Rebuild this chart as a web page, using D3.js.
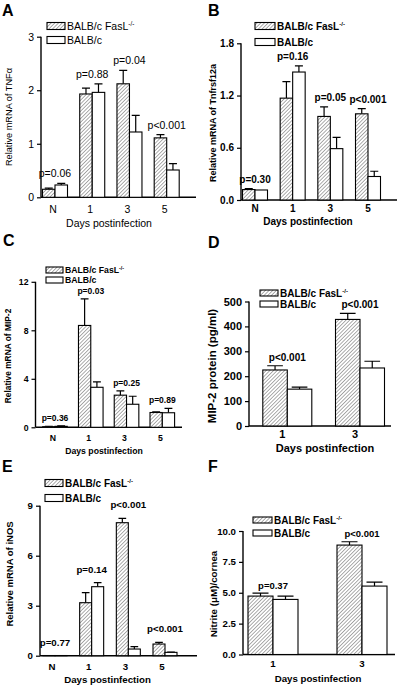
<!DOCTYPE html>
<html><head><meta charset="utf-8">
<script src="https://cdn.jsdelivr.net/npm/d3@7"></script>
<style>body{margin:0;background:#fff}</style>
</head><body>
<svg id="chart" width="400" height="687"></svg>
<script>
// ---------- data ----------
const seriesNames = ["BALB/c FasL", "BALB/c"];
const daysFour = ["N", "1", "3", "5"];
const daysTwo = ["1", "3"];

const tnfFasL = [0.15, 1.93, 2.12, 1.11];
const tnfFasLErr = [0.02, 0.11, 0.25, 0.06];
const tnfWT = [0.23, 1.96, 1.22, 0.51];
const tnfWTErr = [0.03, 0.16, 0.31, 0.12];
const tnfP = ["p=0.06", "p=0.88", "p=0.04", "p<0.001"];
const tnfTicks = [0, 1, 2, 3];

const tnfrFasL = [0.12, 1.17, 0.96, 0.99];
const tnfrFasLErr = [0.01, 0.19, 0.11, 0.06];
const tnfrWT = [0.115, 1.47, 0.59, 0.27];
const tnfrWTErr = [0.0, 0.07, 0.13, 0.06];
const tnfrP = ["p=0.30", "p=0.16", "p=0.05", "p<0.001"];
const tnfrTicks = [0, 0.6, 1.2, 1.8];

const mipFasL = [0.05, 8.4, 2.65, 1.22];
const mipFasLErr = [0.03, 2.2, 0.36, 0.06];
const mipWT = [0.08, 3.3, 1.9, 1.2];
const mipWTErr = [0.04, 0.45, 0.66, 0.36];
const mipP = ["p=0.36", "p=0.03", "p=0.25", "p=0.89"];
const mipTicks = [0, 4, 8, 12];

const mipProtFasL = [225, 428];
const mipProtFasLErr = [17, 24];
const mipProtWT = [148, 233];
const mipProtWTErr = [8, 27];
const mipProtP = ["p<0.001", "p<0.001"];
const mipProtTicks = [0, 100, 200, 300, 400, 500];

const inosFasL = [0.01, 3.18, 7.98, 0.7];
const inosFasLErr = [0.0, 0.6, 0.26, 0.1];
const inosWT = [0.01, 4.14, 0.4, 0.2];
const inosWTErr = [0.0, 0.24, 0.14, 0.01];
const inosP = ["p=0.77", "p=0.14", "p<0.001", "p<0.001"];
const inosTicks = [0, 3, 6, 9];

const nitFasL = [4.73, 8.86];
const nitFasLErr = [0.24, 0.27];
const nitWT = [4.46, 5.54];
const nitWTErr = [0.27, 0.32];
const nitP = ["p=0.37", "p<0.001"];
const nitTicks = [0, 2.5, 5, 7.5, 10];

// ---------- drawing ----------
const svg = d3.select("#chart");
const FONT = "'Liberation Sans', Arial, sans-serif";
svg.append("rect").attr("width", 400).attr("height", 687).attr("fill", "#fff");

const defs = svg.append("defs");
const pat = defs.append("pattern").attr("id", "hatch").attr("patternUnits", "userSpaceOnUse")
  .attr("width", 2.6).attr("height", 2.6).attr("patternTransform", "rotate(45)");
pat.append("rect").attr("width", 2.6).attr("height", 2.6).attr("fill", "#fff");
pat.append("line").attr("x1", 0).attr("y1", 0).attr("x2", 0).attr("y2", 2.6)
  .attr("stroke", "#5a5a5a").attr("stroke-width", 1.0);

function panel(cfg) {
  const g = svg.append("g");
  const fw = cfg.weight;
  const y = d3.scaleLinear().domain([0, cfg.yMax]).range([cfg.yBottom, cfg.yTop]);
  const x = d3.scalePoint().domain(cfg.cats).range([cfg.cx0, cfg.cx1]);
  const bw = cfg.bw;

  // letter
  g.append("text").attr("x", cfg.letterX).attr("y", cfg.letterY).text(cfg.letter)
    .attr("font-family", FONT).attr("font-weight", "bold").attr("font-size", 16);

  // y axis
  const ya = g.append("g").attr("transform", `translate(${cfg.ax},0)`)
    .call(d3.axisLeft(y).tickValues(cfg.ticks).tickFormat(cfg.fmt).tickSize(4).tickPadding(3));
  ya.select(".domain").attr("stroke", "#000").attr("stroke-width", 1.4).attr("d", `M0,${y(0)}V${y(cfg.yMax)}`);
  ya.selectAll(".tick line").attr("stroke", "#000").attr("stroke-width", 1.2);
  ya.selectAll(".tick text").attr("font-family", FONT).attr("font-weight", fw)
    .attr("font-size", cfg.fs).attr("fill", "#000");

  // x axis line
  g.append("line").attr("x1", cfg.ax).attr("x2", cfg.axEnd).attr("y1", y(0)).attr("y2", y(0))
    .attr("stroke", "#000").attr("stroke-width", 1.4);

  // x tick labels
  g.selectAll(".xl").data(cfg.cats).join("text")
    .attr("x", d => x(d) + cfg.xlDx).attr("y", cfg.xlY).attr("text-anchor", "middle").text(d => d)
    .attr("font-family", FONT).attr("font-weight", fw).attr("font-size", cfg.fs);

  // bars
  const series = [
    { vals: cfg.s1, errs: cfg.e1, fill: "url(#hatch)", off: -bw },
    { vals: cfg.s2, errs: cfg.e2, fill: "#fff", off: 0 }
  ];
  series.forEach(s => {
    const data = cfg.cats.map((c, i) => ({ c, v: s.vals[i], e: s.errs[i] }));
    g.selectAll(null).data(data.filter(d => d.e > 0)).join("path")
      .attr("d", d => {
        const cx = x(d.c) + s.off + bw / 2, cw = bw * 0.32;
        return `M${cx},${y(d.v)}V${y(d.v + d.e)}M${cx - cw},${y(d.v + d.e)}H${cx + cw}`;
      })
      .attr("stroke", "#000").attr("stroke-width", 1.2).attr("fill", "none");
    g.selectAll(null).data(data).join("rect")
      .attr("x", d => x(d.c) + s.off).attr("width", bw)
      .attr("y", d => y(d.v)).attr("height", d => y(0) - y(d.v))
      .attr("fill", s.fill).attr("stroke", "#000").attr("stroke-width", 1.1);
  });

  // p labels
  g.selectAll(".pl").data(cfg.cats).join("text")
    .attr("x", d => x(d)).attr("text-anchor", "middle")
    .attr("y", (d, i) => y(Math.max(cfg.s1[i] + cfg.e1[i], cfg.s2[i] + cfg.e2[i])) - cfg.pGap)
    .text((d, i) => cfg.p[i])
    .attr("font-family", FONT).attr("font-weight", fw).attr("font-size", cfg.pfs);

  // axis titles
  g.append("text").attr("x", cfg.xtX).attr("y", cfg.xtY).attr("text-anchor", "middle")
    .text("Days postinfection").attr("font-family", FONT).attr("font-weight", fw).attr("font-size", cfg.fs);
  g.append("text").attr("transform", `translate(${cfg.ytX},${cfg.ytY}) rotate(-90)`)
    .attr("text-anchor", "middle").text(cfg.ytitle)
    .attr("font-family", FONT).attr("font-weight", fw).attr("font-size", cfg.yfs);

  // legend
  const fills = ["url(#hatch)", "#fff"];
  seriesNames.forEach((name, i) => {
    const ly = cfg.legY[i];
    g.append("rect").attr("x", cfg.legX).attr("y", ly - cfg.swH / 2).attr("width", cfg.swW).attr("height", cfg.swH)
      .attr("fill", fills[i]).attr("stroke", "#000").attr("stroke-width", 1.1);
    const t = g.append("text").attr("x", cfg.legX + cfg.swW + 2).attr("y", ly + cfg.lfs * 0.36)
      .attr("font-family", FONT).attr("font-weight", fw).attr("font-size", cfg.lfs).text(name);
    if (i === 0) t.append("tspan").attr("dy", -cfg.lfs * 0.4).attr("font-size", cfg.lfs * 0.6).text("-/-");
  });
}

panel({ letter: "A", letterX: 2, letterY: 16, weight: "normal", fs: 10.5, pfs: 10.5, yfs: 9.2, lfs: 10.5,
  cats: daysFour, s1: tnfFasL, e1: tnfFasLErr, s2: tnfWT, e2: tnfWTErr, p: tnfP, pGap: 6,
  yMax: 3, ticks: tnfTicks, fmt: d3.format("d"), yBottom: 197.3, yTop: 36.7, ax: 41, axEnd: 196,
  cx0: 55, cx1: 166.7, bw: 12.5, xlY: 213, xlDx: -2, xtX: 109, xtY: 226.5,
  ytitle: "Relative mRNA of TNF\u03b1", ytX: 12, ytY: 117,
  legX: 47, legY: [26, 40], swW: 18, swH: 7 });

panel({ letter: "B", letterX: 208, letterY: 16, weight: "bold", fs: 10, pfs: 10, yfs: 9, lfs: 10,
  cats: daysFour, s1: tnfrFasL, e1: tnfrFasLErr, s2: tnfrWT, e2: tnfrWTErr, p: tnfrP, pGap: 5.5,
  yMax: 1.8, ticks: tnfrTicks, fmt: d3.format(".1f"), yBottom: 200, yTop: 43.3, ax: 241, axEnd: 397,
  cx0: 255, cx1: 368, bw: 12.5, xlY: 212, xlDx: 0, xtX: 308, xtY: 224.5,
  ytitle: "Relative mRNA of Tnfrsf12a", ytX: 216, ytY: 123,
  legX: 255, legY: [26, 42], swW: 20, swH: 7 });

panel({ letter: "C", letterX: 3, letterY: 246, weight: "bold", fs: 8.7, pfs: 8.5, yfs: 8.4, lfs: 8.7,
  cats: daysFour, s1: mipFasL, e1: mipFasLErr, s2: mipWT, e2: mipWTErr, p: mipP, pGap: 5,
  yMax: 12, ticks: mipTicks, fmt: d3.format("d"), yBottom: 427.3, yTop: 281.8, ax: 35.5, axEnd: 182,
  cx0: 55, cx1: 162.3, bw: 12.3, xlY: 440.5, xlDx: -2, xtX: 104, xtY: 453.5,
  ytitle: "Relative mRNA of MIP-2", ytX: 11, ytY: 356,
  legX: 46, legY: [270, 280], swW: 17, swH: 6 });

panel({ letter: "D", letterX: 208, letterY: 248, weight: "bold", fs: 11, pfs: 10, yfs: 11.5, lfs: 10,
  cats: daysTwo, s1: mipProtFasL, e1: mipProtFasLErr, s2: mipProtWT, e2: mipProtWTErr, p: mipProtP, pGap: 5,
  yMax: 500, ticks: mipProtTicks, fmt: d3.format("d"), yBottom: 426, yTop: 301.5, ax: 249, axEnd: 391,
  cx0: 287.3, cx1: 360, bw: 24.5, xlY: 438, xlDx: -5, xtX: 325, xtY: 451.5,
  ytitle: "MIP-2 protein (pg/ml)", ytX: 216, ytY: 366,
  legX: 260, legY: [293, 304], swW: 18, swH: 6 });

panel({ letter: "E", letterX: 2, letterY: 472, weight: "bold", fs: 9.7, pfs: 9.7, yfs: 9.5, lfs: 10,
  cats: daysFour, s1: inosFasL, e1: inosFasLErr, s2: inosWT, e2: inosWTErr, p: inosP, pGap: 10,
  yMax: 9, ticks: inosTicks, fmt: d3.format("d"), yBottom: 655.7, yTop: 505.7, ax: 40, axEnd: 197,
  cx0: 55, cx1: 165, bw: 12, xlY: 669.5, xlDx: -3, xtX: 107.5, xtY: 683,
  ytitle: "Relative mRNA of iNOS", ytX: 13, ytY: 574,
  legX: 45, legY: [483, 498], swW: 18, swH: 7 });

panel({ letter: "F", letterX: 208, letterY: 472, weight: "bold", fs: 9.7, pfs: 9.5, yfs: 9.8, lfs: 10,
  cats: daysTwo, s1: nitFasL, e1: nitFasLErr, s2: nitWT, e2: nitWTErr, p: nitP, pGap: 4.5,
  yMax: 10, ticks: nitTicks, fmt: d3.format(".1f"), yBottom: 654.5, yTop: 531, ax: 243, axEnd: 395,
  cx0: 273, cx1: 362, bw: 25, xlY: 667, xlDx: 0, xtX: 318, xtY: 682,
  ytitle: "Nitrite (\u03bcM)/cornea", ytX: 217, ytY: 594,
  legX: 253, legY: [520, 533], swW: 19, swH: 6 });
</script>
</body></html>
